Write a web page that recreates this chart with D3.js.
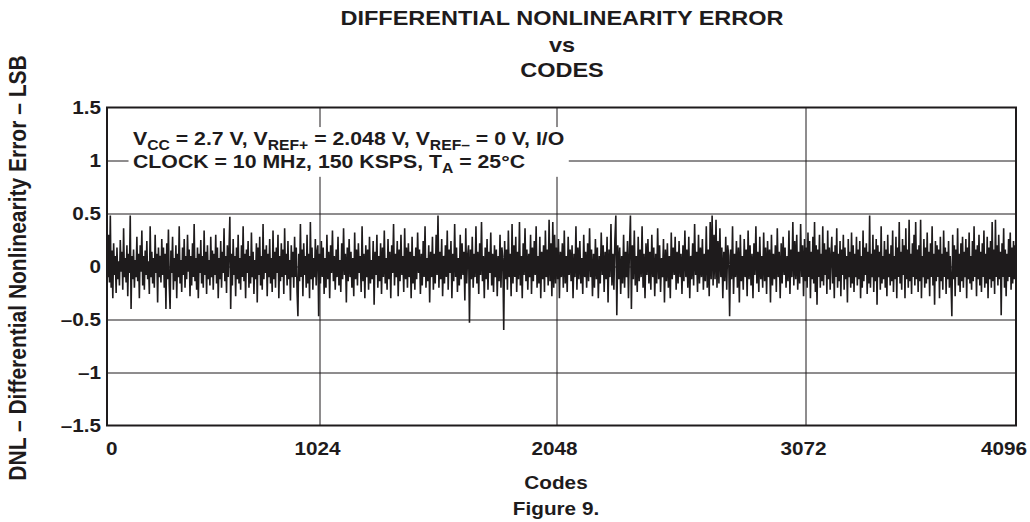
<!DOCTYPE html>
<html><head><meta charset="utf-8">
<script src="https://cdn.jsdelivr.net/npm/d3@7"></script>
<style>
html,body{margin:0;padding:0;background:#fff;}
svg{display:block;font-family:"Liberation Sans",Arial,Helvetica,sans-serif;font-weight:bold;}
</style></head><body>
<svg id="chart" width="1030" height="522"></svg>
<script>
const titleLines = ["DIFFERENTIAL NONLINEARITY ERROR", "vs", "CODES"];
const xAxisTitle = "Codes";
const figureCaption = "Figure 9.";
const yAxisTitle = "DNL – Differential Nonlinearity Error – LSB";
const xTickCodes = [0, 1024, 2048, 3072, 4096];
const xTickLabels = ["0", "1024", "2048", "3072", "4096"];
const yTickValues = [1.5, 1, 0.5, 0, -0.5, -1, -1.5];
const yTickLabels = ["1.5", "1", "0.5", "0", "–0.5", "–1", "–1.5"];
const codeStep = 4; // one plotted sample every 4 codes
// DNL (LSB), one value per plotted sample
const dnl = [
.12,-.1,.3,-.15,.48,-.2,.15,-.3,.22,-.08,.1,-.25,.18,-.12,.05,-.18,.25,-.05,.14,-.22,.36,-.1,.08,-.15,.2,-.28,.12,-.06,.48,-.4,.1,-.12,
.16,-.2,.06,-.1,.28,-.14,.12,-.3,.2,-.05,.34,-.18,.1,-.22,.15,-.08,.24,-.12,.05,-.26,.38,-.1,.14,-.16,.08,-.2,.3,-.06,.12,-.34,.18,-.1,
.1,-.15,.26,-.08,.18,-.2,.12,-.4,.22,-.12,.35,-.18,-.4,.15,-.06,.28,-.22,.08,-.14,.2,-.3,.12,-.1,.38,-.16,.06,-.24,.18,-.08,.26,-.2,.1,
-.12,.3,-.05,.16,-.28,.1,-.18,.22,-.1,.4,-.14,.08,-.22,.18,-.3,.12,-.06,.25,-.16,.1,-.2,.34,-.08,.14,-.26,.2,-.12,.06,-.18,.28,-.1,.15,
-.22,.12,-.08,.3,-.16,.18,-.3,.08,-.12,.24,-.2,.14,-.06,.36,-.14,.1,-.25,.2,-.1,.16,.47,-.4,.12,-.18,.26,-.08,.1,-.28,.18,-.12,.3,-.16,
.08,-.22,.2,-.1,.38,-.14,.12,-.3,.16,-.06,.24,-.2,.1,-.16,.32,-.1,.14,-.26,.06,-.12,.22,-.34,.18,-.08,.28,-.18,.1,-.22,.4,-.12,.16,-.06,
.2,-.28,.12,-.1,.26,-.16,.08,-.24,.34,-.12,.14,-.2,.18,-.06,.3,-.3,.1,-.14,.22,-.1,.16,-.26,.36,-.08,.12,-.18,.24,-.12,.06,-.32,.2,-.1,
.14,-.2,.28,-.1,.18,-.24,-.47,.12,-.14,.4,-.1,.16,-.28,.22,-.08,.1,-.2,.3,-.16,.12,-.3,.42,-.12,.18,-.22,.08,-.1,.26,-.18,.14,.2,-.47,
.12,-.16,.24,-.1,.18,-.26,.08,-.2,.3,-.12,.14,-.3,.2,-.06,.34,-.14,.1,-.22,.16,-.1,.28,-.18,.06,-.24,.22,-.12,.36,-.08,.12,-.34,.18,-.14,
.26,-.1,.14,-.2,.08,-.28,.32,-.12,.16,-.18,.22,-.06,.1,-.24,.38,-.14,.12,-.3,.2,-.1,.16,-.22,.28,-.16,.06,-.12,.24,-.36,.14,-.08,.3,-.2,
.1,-.14,.22,-.26,.18,-.1,.34,-.16,.08,-.22,.26,-.12,.14,-.3,.2,-.06,.4,-.18,.12,-.1,.24,-.28,.16,-.14,.3,-.08,.1,-.24,.36,-.12,.18,-.2,
.22,-.1,.14,-.3,.28,-.16,.1,-.22,.18,-.12,.32,-.06,.16,-.26,.12,-.18,.24,-.1,.38,-.2,.08,-.14,.2,-.34,.14,-.1,.28,-.22,.12,-.16,.3,-.08,
.48,-.2,.14,-.12,.26,-.28,.1,-.16,.2,-.1,.34,-.22,.16,-.06,.24,-.3,.12,-.14,.4,-.1,.18,-.24,.08,-.18,.3,-.12,.22,-.08,.14,-.32,.36,-.16,
.1,.2,-.53,.16,-.12,.28,-.2,.12,-.1,.38,-.16,.14,-.26,.22,-.08,.42,-.14,.1,-.3,.18,-.12,.26,-.22,.14,-.06,.32,-.18,.12,-.24,.2,-.1,.16,
-.28,.1,-.14,.3,-.2,.18,.08,-.6,.24,-.12,.16,-.22,.34,-.1,.12,-.28,.4,-.16,.2,-.1,.28,-.24,.14,-.12,.42,-.18,.1,-.3,.22,-.08,.36,-.14,
.16,-.22,.12,-.1,.3,-.26,.18,-.14,.24,-.08,.38,-.2,.1,-.16,.28,-.3,.14,-.12,.2,-.24,.34,-.1,.16,-.18,.44,-.14,.22,-.28,.42,-.2,.3,-.16,
.18,-.12,.26,-.3,.14,-.1,.22,-.2,.34,-.16,.1,-.24,.28,-.08,.16,-.14,.2,-.3,.12,-.1,.38,-.22,.18,-.12,.24,-.16,.08,-.26,.3,-.1,.14,-.2,
.22,-.14,.36,-.1,.16,-.28,.12,-.2,.26,-.12,.18,-.3,.1,-.16,.32,-.08,.2,-.24,.14,-.12,.28,-.34,.16,-.1,.4,-.18,.12,-.22,.24,.48,-.46,.2,
-.12,.18,-.26,.1,-.16,.3,-.2,.14,-.1,.24,-.3,.16,.48,-.4,.2,-.12,.34,-.18,.1,-.24,.28,-.14,.16,-.1,.38,-.2,.12,-.3,.22,-.08,.26,-.16,
.14,-.22,.3,-.1,.18,-.28,.12,-.16,.36,-.12,.2,-.24,.08,-.1,.26,-.34,.16,-.14,.22,-.2,.1,-.3,.32,-.12,.18,-.08,.28,-.22,.14,-.16,.24,-.1,
.12,-.26,.2,-.14,.34,-.1,.16,-.2,.28,-.3,.1,-.12,.22,-.18,.4,-.08,.14,-.24,.3,-.16,.18,-.1,.26,-.22,.12,-.14,.38,-.2,.16,-.28,.42,-.12,
.48,-.18,.3,-.12,.44,-.2,.24,-.16,.36,-.1,.18,-.3,.14,-.14,.28,-.22,.2,.1,-.47,.16,-.12,.38,-.26,.12,-.1,.24,-.2,.18,-.34,.3,-.14,.1,
-.22,.26,-.1,.16,-.28,.34,-.12,.2,-.18,.12,-.3,.22,-.08,.38,-.16,.14,-.24,.28,-.12,.1,-.2,.32,-.14,.18,-.26,.24,-.1,.16,-.34,.3,-.18,.12,
-.12,.2,-.24,.36,-.1,.14,-.3,.22,-.16,.28,-.08,.18,-.2,.1,-.14,.34,-.26,.16,-.1,.42,-.18,.24,-.12,.3,-.22,.14,-.16,.4,-.1,.2,-.28,.26,
-.14,.18,-.2,.32,-.1,.24,-.3,.14,-.12,.28,-.16,.42,-.24,.2,-.36,.16,-.1,.3,-.2,.12,-.14,.38,-.18,.22,-.08,.16,-.26,.34,-.12,.18,-.22,.1,
.28,-.16,.14,-.3,.2,-.1,.36,-.2,.12,-.14,.24,-.28,.16,-.08,.3,-.22,.18,-.12,.1,-.34,.26,-.1,.14,-.2,.32,-.16,.2,-.24,.12,-.1,.28,-.18,
.16,-.12,.24,-.3,.1,-.2,.34,-.14,.18,-.08,.22,-.26,.14,-.16,.48,-.2,.12,-.1,.3,-.24,.16,-.14,.26,-.36,.2,-.1,.14,-.22,.38,-.16,.1,-.12,
.24,-.2,.16,-.28,.3,-.1,.12,-.18,.2,-.14,.34,-.24,.1,-.12,.28,-.3,.18,-.1,.42,-.16,.14,-.22,.26,-.08,.2,-.3,.36,-.12,.16,-.2,.44,-.14,
.12,-.26,.22,-.1,.3,-.18,.42,-.12,.16,-.24,.2,-.14,.44,-.3,.1,-.1,.26,-.2,.18,-.16,.32,-.12,.14,-.28,.22,-.1,.38,-.18,.12,-.36,.24,-.14,
.2,-.1,.16,-.3,.28,-.14,.12,-.22,.34,-.1,.18,-.26,.14,-.12,.24,-.2,.1,-.16,-.47,.3,-.12,.2,-.28,.16,-.1,.36,-.18,.12,-.24,.22,-.14,.28,
-.2,.14,-.1,.26,-.3,.18,-.12,.32,-.16,.1,-.22,.24,-.14,.38,-.1,.16,-.28,.2,-.12,.3,-.18,.14,-.24,.22,-.1,.34,-.2,.12,-.16,.28,-.3,.18,
-.12,.24,-.2,.42,-.14,.16,-.26,.44,-.1,.2,-.18,.3,-.12,.14,-.46,.22,-.1,.36,-.2,.16,-.28,.12,-.14,.26,-.1,.32,-.22,.18,-.16,.24,-.12,.2
];
const annotLine1 = [["V",0],["CC",1],[" = 2.7 V, V",0],["REF+",1],[" = 2.048 V, V",0],["REF–",1],[" = 0 V, I/O",0]];
const annotLine2 = [["CLOCK = 10 MHz, 150 KSPS, T",0],["A",1],[" = 25°C",0]];

const svg = d3.select("#chart");
const ink = "#1e1b1c";
const SX = 1.12;
const X0 = 107, X1 = 1016, Y0 = 107.5, Y1 = 425.5;

const x = d3.scaleLinear().domain(xTickCodes).range([X0, 319.5, 556.5, 805.5, X1]);
const y = d3.scaleLinear().domain([-1.5, 1.5]).range([Y1, Y0]);

function sText(g, tx, ty, str, size, anchor) {
  return g.append("text")
    .attr("transform", `translate(${tx},${ty}) scale(${SX},1)`)
    .attr("text-anchor", anchor).attr("font-size", size).attr("fill", ink).text(str);
}

// grid
svg.append("g").attr("transform", `translate(0,${Y1})`)
  .call(d3.axisBottom(x).tickValues(xTickCodes.slice(1, -1)).tickSize(-(Y1 - Y0)).tickFormat(""))
  .call(g => g.select(".domain").remove())
  .selectAll("line").attr("stroke", ink).attr("stroke-width", 1);
svg.append("g").attr("transform", `translate(${X0},0)`)
  .call(d3.axisLeft(y).tickValues(yTickValues.slice(1, -1)).tickSize(-(X1 - X0)).tickFormat(""))
  .call(g => g.select(".domain").remove())
  .selectAll("line").attr("stroke", ink).attr("stroke-width", 1);

// data
const line = d3.line().x((d, i) => x(i * codeStep)).y(d => y(d));
svg.append("path").datum(dnl).attr("d", line)
  .attr("fill", "none").attr("stroke", ink).attr("stroke-width", 1.6)
  .attr("stroke-linejoin", "bevel");

// annotation
const ag = svg.append("g").attr("transform", `translate(133,0) scale(${SX},1)`);
function annot(parts, baseY) {
  const t = ag.append("text").attr("x", 0).attr("y", baseY).attr("font-size", 19).attr("fill", ink);
  let prevSub = 0;
  parts.forEach(([s, sub]) => {
    const ts = t.append("tspan").text(s);
    if (sub) { ts.attr("font-size", 14).attr("dy", 5 - prevSub * 5); }
    else if (prevSub) { ts.attr("dy", -5); }
    prevSub = sub;
  });
}
annot(annotLine1, 145);
annot(annotLine2, 168);
const bb = ag.node().getBBox();
ag.insert("rect", ":first-child").attr("x", bb.x - 4).attr("y", bb.y - 1)
  .attr("width", bb.width + 8).attr("height", bb.height + 2).attr("fill", "#fff");

// frame
svg.append("rect").attr("x", X0).attr("y", Y0).attr("width", X1 - X0).attr("height", Y1 - Y0)
  .attr("fill", "none").attr("stroke", ink).attr("stroke-width", 2);

// tick labels
const tl = svg.append("g");
yTickValues.forEach((v, i) => sText(tl, 101, y(v), yTickLabels[i], 18.5, "end").attr("dy", "0.36em"));
xTickCodes.forEach((c, i) => {
  let anchor = "middle", px = x(c) - 2;
  if (i === 0) { anchor = "start"; px = X0 - 1; }
  if (i === xTickCodes.length - 1) { anchor = "end"; px = 1027; }
  sText(tl, px, 455, xTickLabels[i], 18.5, anchor);
});

// titles
const titleY = [25, 52, 77];
titleLines.forEach((s, i) => sText(svg, 562, titleY[i], s, 21, "middle"));
sText(svg, 556, 489, xAxisTitle, 18.5, "middle");
sText(svg, 556, 515, figureCaption, 18.5, "middle");
svg.append("text").attr("transform", `translate(26,268) rotate(-90) scale(1,${SX})`)
  .attr("text-anchor", "middle").attr("font-size", 21).attr("fill", ink).text(yAxisTitle);
</script>
</body></html>
